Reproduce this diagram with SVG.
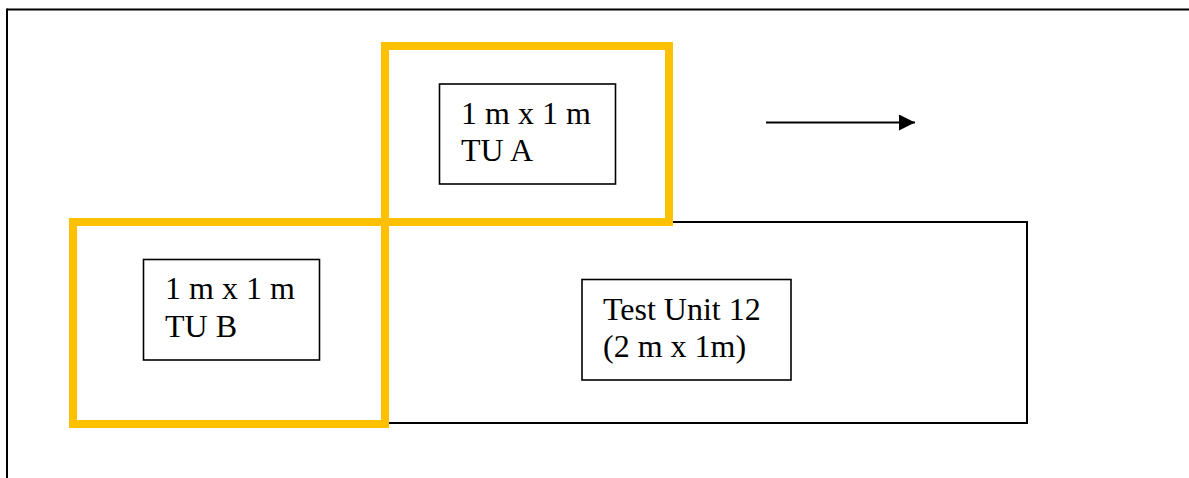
<svg xmlns="http://www.w3.org/2000/svg" width="1189" height="478" viewBox="0 0 1189 478">
  <style>
    .frame { fill: none; stroke: #000; stroke-width: 2; }
    .pit { fill: none; stroke: #000; stroke-width: 2; }
    .tu { fill: none; stroke: #FFC000; stroke-width: 8; }
    .label-box { fill: #fff; stroke: #000; stroke-width: 1.6; }
    .label { font-family: "Liberation Serif", "Times New Roman", serif; font-size: 32px; fill: #000; }
  </style>
  <defs>
    <marker id="arrowhead" markerWidth="8" markerHeight="8" refX="8" refY="4" orient="auto" markerUnits="strokeWidth">
      <path d="M0,0 L8,4 L0,8 Z" fill="#000"/>
    </marker>
  </defs>
  <rect x="0" y="0" width="1189" height="478" fill="#fff"/>

  <!-- page frame: top and left rules only -->
  <g id="frame">
    <line class="frame" x1="7" y1="9.5" x2="1189" y2="9.5" stroke-width="2.5"/>
    <line class="frame" x1="7" y1="8.5" x2="7" y2="478"/>
  </g>

  <!-- Test Unit 12 outline -->
  <g id="test-unit-12">
    <rect class="pit" x="385" y="222" width="642" height="201"/>
    <rect class="label-box" x="582" y="279.5" width="209" height="100.5"/>
    <text class="label" x="603" y="320">Test Unit 12</text>
    <text class="label" x="603" y="357">(2 m x 1m)</text>
  </g>

  <!-- TU A -->
  <g id="tu-a">
    <rect class="tu" x="385" y="46" width="284" height="176"/>
    <rect class="label-box" x="439.5" y="84" width="176" height="100"/>
    <text class="label" x="461" y="124">1 m x 1 m</text>
    <text class="label" x="461" y="161">TU A</text>
  </g>

  <!-- TU B -->
  <g id="tu-b">
    <rect class="tu" x="73" y="222" width="312" height="202"/>
    <rect class="label-box" x="143.5" y="259.5" width="176" height="100.5"/>
    <text class="label" x="165" y="299">1 m x 1 m</text>
    <text class="label" x="165" y="336.5">TU B</text>
  </g>

  <!-- direction arrow -->
  <g id="connectors">
    <line x1="766" y1="122.5" x2="915" y2="122.5" stroke="#000" stroke-width="2" marker-end="url(#arrowhead)"/>
  </g>
</svg>
